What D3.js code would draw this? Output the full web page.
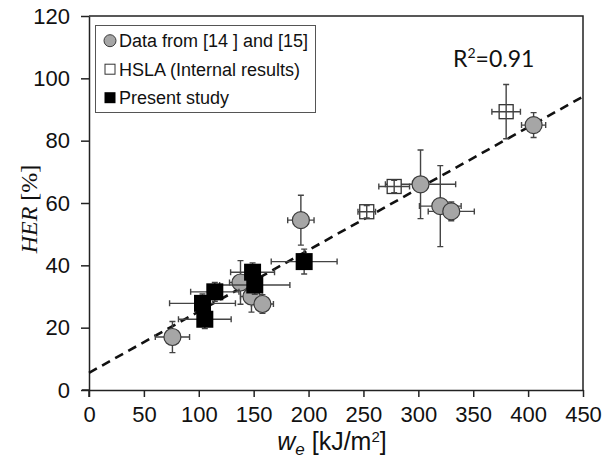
<!DOCTYPE html>
<html>
<head>
<meta charset="utf-8">
<script src="https://cdn.jsdelivr.net/npm/d3@7"></script>
<style>
  body { margin: 0; background: #fff; }
  text { font-family: "Liberation Sans", Arial, sans-serif; }
</style>
</head>
<body>
<div id="chart"></div>
<script>
/* HER vs essential work of fracture, scatter with error bars */

// Data from [14] and [15]
const litX  = [76, 138, 148, 158, 193, 302, 320, 330, 405];
const litY  = [17, 34.5, 30, 27.6, 54.5, 66, 59, 57.3, 85];
const litEx = [15.6, 10, 10, 10, 12, 32, 19, 21, 11];
const litEy = [5, 7, 5, 3, 8, 11, 13, 3, 4];

// HSLA (Internal results)
const hslaX  = [253, 278, 380];
const hslaY  = [57.2, 65.3, 89.3];
const hslaEx = [8, 14, 13];
const hslaEy = [2, 2, 8.7];

// Present study
const presX  = [105.5, 103.4, 114.6, 149, 151, 196];
const presY  = [22.7, 27.8, 31.5, 37.8, 33.7, 41.2];
const presEx = [24, 30, 22, 20, 32, 30];
const presEy = [3, 3, 3, 3, 3, 4];

const xTicks = [0, 50, 100, 150, 200, 250, 300, 350, 400, 450];
const yTicks = [0, 20, 40, 60, 80, 100, 120];

// linear fit
const fitIntercept = 5.5, fitSlope = 0.197;
const r2Label = "0.91";

const legendLabels = ["Data from [14 ] and [15]", "HSLA (Internal results)", "Present study"];

const width = 603, height = 460;
const margin = {top: 16, right: 20, bottom: 70, left: 89};

const svg = d3.select("#chart").append("svg")
    .attr("width", width)
    .attr("height", height);

const x = d3.scaleLinear().domain([0, 450]).range([margin.left, width - margin.right]);
const y = d3.scaleLinear().domain([0, 120]).range([height - margin.bottom, margin.top]);

const toPts = (xs, ys, exs, eys) => xs.map((v, i) => ({x: v, y: ys[i], ex: exs[i], ey: eys[i]}));
const lit = toPts(litX, litY, litEx, litEy);
const hsla = toPts(hslaX, hslaY, hslaEx, hslaEy);
const pres = toPts(presX, presY, presEx, presEy);

// frame (top and right)
svg.append("path")
    .attr("d", `M${x(0)},${y(120)}H${x(450)}V${y(0)}`)
    .attr("fill", "none")
    .attr("stroke", "#222")
    .attr("stroke-width", 1.5);

// axes
const xAxis = svg.append("g")
    .attr("transform", `translate(0,${y(0)})`)
    .call(d3.axisBottom(x).tickValues(xTicks).tickSize(7).tickPadding(9).tickSizeOuter(0));
const yAxis = svg.append("g")
    .attr("transform", `translate(${x(0)},0)`)
    .call(d3.axisLeft(y).tickValues(yTicks).tickSize(8).tickPadding(11).tickSizeOuter(0));

[xAxis, yAxis].forEach(g => {
    g.select(".domain").attr("stroke", "#222").attr("stroke-width", 1.5);
    g.selectAll(".tick line").attr("stroke", "#222").attr("stroke-width", 1.5);
    g.selectAll(".tick text").style("font-size", "22px").attr("fill", "#111")
        .style("font-family", "'Liberation Sans', Arial, sans-serif");
});
// small overhang at the origin
svg.append("line").attr("x1", x(0) - 7).attr("x2", x(0)).attr("y1", y(0)).attr("y2", y(0))
    .attr("stroke", "#222").attr("stroke-width", 1.5);
svg.append("line").attr("x1", x(0)).attr("x2", x(0)).attr("y1", y(0)).attr("y2", y(0) + 7)
    .attr("stroke", "#222").attr("stroke-width", 1.5);

// fit line
svg.append("line")
    .attr("x1", x(0)).attr("y1", y(fitIntercept))
    .attr("x2", x(450)).attr("y2", y(fitIntercept + fitSlope * 450))
    .attr("stroke", "#111")
    .attr("stroke-width", 2.6)
    .attr("stroke-dasharray", "9,6");

// error bars
function errorBars(data, color) {
    const g = svg.append("g").attr("stroke", color).attr("stroke-width", 1.4).attr("fill", "none");
    const cap = 3;
    data.forEach(d => {
        const cx = x(d.x), cy = y(d.y);
        const x0 = x(d.x - d.ex), x1 = x(d.x + d.ex);
        const y0 = y(d.y - d.ey), y1 = y(d.y + d.ey);
        g.append("path").attr("d",
            `M${x0},${cy}H${x1}M${x0},${cy - cap}V${cy + cap}M${x1},${cy - cap}V${cy + cap}` +
            `M${cx},${y0}V${y1}M${cx - cap},${y0}H${cx + cap}M${cx - cap},${y1}H${cx + cap}`);
    });
}

// literature data
errorBars(lit, "#444");
svg.append("g").selectAll("circle")
    .data(lit)
    .join("circle")
    .attr("cx", d => x(d.x))
    .attr("cy", d => y(d.y))
    .attr("r", 8.5)
    .attr("fill", "#a6a6a6")
    .attr("stroke", "#3a3a3a")
    .attr("stroke-width", 1.2);

// HSLA, bars drawn over the white squares
svg.append("g").selectAll("rect")
    .data(hsla)
    .join("rect")
    .attr("x", d => x(d.x) - 7)
    .attr("y", d => y(d.y) - 7)
    .attr("width", 14)
    .attr("height", 14)
    .attr("fill", "#fff")
    .attr("stroke", "#333")
    .attr("stroke-width", 1.3);
errorBars(hsla, "#444");

// present study
errorBars(pres, "#444");
svg.append("g").selectAll("rect")
    .data(pres)
    .join("rect")
    .attr("x", d => x(d.x) - 8.5)
    .attr("y", d => y(d.y) - 8.5)
    .attr("width", 17)
    .attr("height", 17)
    .attr("fill", "#000");

// R^2 label
const r2 = svg.append("text")
    .attr("x", 453)
    .attr("y", 67)
    .style("font-family", "Lato, 'Open Sans', sans-serif")
    .style("font-size", "23px")
    .attr("fill", "#111");
r2.append("tspan").text("R");
r2.append("tspan").attr("dy", -9).style("font-size", "14px").text("2");
r2.append("tspan").attr("dy", 9).text("=" + r2Label);

// legend
const legend = svg.append("g");
legend.append("rect")
    .attr("x", 95.5).attr("y", 25.5)
    .attr("width", 220).attr("height", 87)
    .attr("fill", "#fff")
    .attr("stroke", "#555")
    .attr("stroke-width", 1);

const rowY = i => 40.7 + i * 28.5;
legend.append("circle").attr("cx", 110).attr("cy", rowY(0)).attr("r", 6)
    .attr("fill", "#a6a6a6").attr("stroke", "#3a3a3a").attr("stroke-width", 1);
legend.append("rect").attr("x", 105).attr("y", rowY(1) - 5).attr("width", 10).attr("height", 10)
    .attr("fill", "#fff").attr("stroke", "#333").attr("stroke-width", 1);
legend.append("rect").attr("x", 104.5).attr("y", rowY(2) - 5.5).attr("width", 11).attr("height", 11)
    .attr("fill", "#000");

legend.selectAll(".lg")
    .data(legendLabels)
    .join("text")
    .attr("class", "lg")
    .attr("x", 119)
    .attr("y", (d, i) => rowY(i) + 6.3)
    .style("font-size", "18px")
    .attr("fill", "#111")
    .text(d => d);

// axis titles
const xt = svg.append("text")
    .attr("x", 332)
    .attr("y", 450)
    .attr("text-anchor", "middle")
    .style("font-size", "25px")
    .attr("fill", "#111");
xt.append("tspan").style("font-style", "italic").text("w");
xt.append("tspan").style("font-style", "italic").style("font-size", "17px").attr("dy", 5).text("e");
xt.append("tspan").attr("dy", -5).text(" [kJ/m");
xt.append("tspan").style("font-size", "15px").attr("dy", -8).text("2");
xt.append("tspan").attr("dy", 8).text("]");

const yt = svg.append("text")
    .attr("transform", "translate(37,209) rotate(-90)")
    .attr("text-anchor", "middle")
    .style("font-family", "'Liberation Serif', 'Times New Roman', serif")
    .style("font-size", "24px")
    .attr("fill", "#111");
yt.append("tspan").style("font-style", "italic").text("HER");
yt.append("tspan").text(" [%]");
</script>
</body>
</html>
